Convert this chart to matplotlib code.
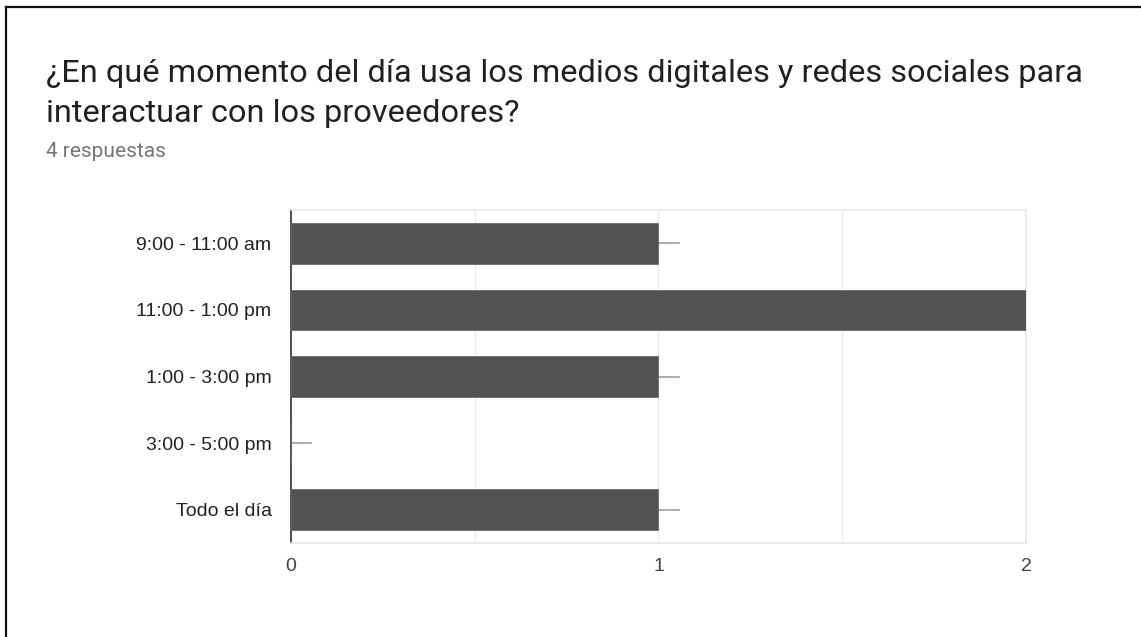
import matplotlib.pyplot as plt

# Responses per time slot
categories = ["9:00 - 11:00 am", "11:00 - 1:00 pm", "1:00 - 3:00 pm", "3:00 - 5:00 pm", "Todo el día"]
counts = [1, 2, 1, 0, 1]
x_ticks = [0, 1, 2]

title_lines = ["¿En qué momento del día usa los medios digitales y redes sociales para",
               "interactuar con los proveedores?"]
subtitle = "4 respuestas"

W, H = 1141, 637
fig = plt.figure(figsize=(W / 100, H / 100), dpi=100)
fig.patch.set_facecolor("white")

# Title block, placed on baselines (pixel rows from the top)
fig.text(46 / W, 1 - 82 / H, title_lines[0], family="Roboto", fontsize=23.4,
         color="#202124", va="baseline", ha="left")
fig.text(46 / W, 1 - 122 / H, title_lines[1], family="Roboto", fontsize=23.4,
         color="#202124", va="baseline", ha="left")
fig.text(46 / W, 1 - 157 / H, subtitle, family="Roboto", fontsize=15,
         color="#757575", va="baseline", ha="left")

# Card edges (top and left)
fig.add_artist(plt.Line2D([6 / W, 1], [1 - 7 / H, 1 - 7 / H], color="#111111", lw=1.6))
fig.add_artist(plt.Line2D([6 / W, 6 / W], [0, 1 - 7 / H], color="#111111", lw=1.6))

ax = fig.add_axes([291 / W, 1 - 543 / H, 735 / W, 333 / H])
ypos = list(range(len(categories)))
ax.barh(ypos, counts, height=0.61, color="#525252", edgecolor="#6a6a6a", linewidth=0.6, zorder=3)

# Short stems after each bar end
for y, c in zip(ypos, counts):
    ax.plot([c, c + 0.055], [y, y], color="#9e9e9e", lw=1.2, zorder=2, clip_on=True)

ax.set_xlim(0, 2)
ax.set_ylim(len(categories) - 0.5, -0.5)
ax.set_xticks(x_ticks)
ax.set_xticks([0.5, 1.5], minor=True)
ax.grid(axis="x", which="both", color="#ebebeb", lw=1, zorder=0)
ax.set_yticks(ypos)
ax.set_yticklabels(categories)

for side in ["top", "right", "bottom"]:
    ax.spines[side].set_color("#e6e6e6")
    ax.spines[side].set_linewidth(1.2)
ax.spines["left"].set_color("#333333")
ax.spines["left"].set_linewidth(1.2)

ax.tick_params(axis="both", which="both", length=0)
ax.tick_params(axis="y", pad=14, labelsize=14, labelcolor="#222222")
ax.tick_params(axis="x", pad=11, labelsize=14, labelcolor="#444444")
for lbl in ax.get_yticklabels() + ax.get_xticklabels():
    lbl.set_family("Liberation Sans")

fig.savefig("out.png", dpi=100, facecolor="white")
